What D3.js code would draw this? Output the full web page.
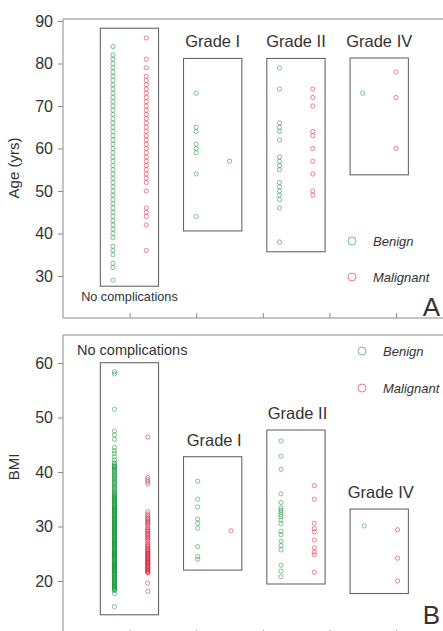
<!DOCTYPE html>
<html>
<head>
<meta charset="utf-8">
<script src="https://cdn.jsdelivr.net/npm/d3@7"></script>
<style>
  html, body { margin: 0; padding: 0; background: #fff; }
  svg { display: block; }
  text { font-family: "Liberation Sans", Arial, Helvetica, sans-serif; fill: #333; }
</style>
</head>
<body>
<svg id="chart" width="443" height="631"></svg>
<script>
// ---- categories ----
const groups = ["No complications", "Grade I", "Grade II", "Grade IV"];
const series = ["Benign", "Malignant"];

// ---- panel A: age (yrs) ----
const ageNoCompBenign = [84, 82, 81, 80, 79, 78, 77, 76, 75, 74, 73, 72, 71, 70, 69, 68, 67, 66, 65, 64, 63,
  62, 61, 60, 59, 58, 57, 56, 55, 54, 53, 52, 51, 50, 49, 48, 47, 46, 45, 44, 43, 42, 41, 40, 39,
  37, 36, 35, 33, 32, 29];
const ageNoCompMalignant = [86, 81, 79, 77, 76, 75, 74, 73, 72, 71, 70, 69, 68, 67, 66, 65, 64, 63, 62, 61,
  60, 59, 58, 57, 56, 55, 54, 53, 52, 50, 46, 45, 44, 42, 36];
const ageGrade1Benign = [73, 65, 64, 61, 60, 59, 54, 44];
const ageGrade1Malignant = [57];
const ageGrade2Benign = [79, 74, 66, 65, 64, 62, 58, 57, 56, 55, 52, 51, 50, 49, 48, 46, 38];
const ageGrade2Malignant = [74, 72, 70, 64, 63, 60, 57, 54, 50, 49];
const ageGrade4Benign = [73];
const ageGrade4Malignant = [78, 72, 60];
// outline of each group (age range enclosed)
const ageBoxLow = [27.6, 40.6, 35.7, 53.8];
const ageBoxHigh = [88.3, 81.2, 81.2, 81.3];
const ageTicks = [30, 40, 50, 60, 70, 80, 90];

// ---- panel B: BMI ----
const bmiNoCompBenign = [58.4, 58.0, 51.5, 47.5, 46.8, 46.0, 44.5, 43.9, 43.4,
  42.8, 42.2, 41.7, 41.2, 40.9, 40.5, 40.1, 39.6, 39.2, 38.8, 38.3, 37.9, 37.4, 37.0, 36.5, 36.1,
  35.8, 35.5, 35.3, 35.0, 34.8, 34.6, 34.3, 34.1, 33.9, 33.6, 33.4, 33.2, 33.0, 32.8, 32.5, 32.3,
  32.1, 31.9, 31.7, 31.5, 31.2, 31.0, 30.8, 30.6, 30.4, 30.1, 29.9, 29.7, 29.5, 29.3, 29.0, 28.8,
  28.6, 28.4, 28.2, 27.9, 27.7, 27.5, 27.3, 27.1, 26.9, 26.6, 26.4, 26.2, 26.0, 25.8, 25.6, 25.3,
  25.1, 24.9, 24.7, 24.5, 24.2, 24.0, 23.8, 23.6, 23.4, 23.1, 22.9, 22.7, 22.5, 22.3, 22.0, 21.8,
  21.6, 21.4, 21.2, 20.9, 20.7, 20.5, 20.3, 20.1, 19.8, 19.6, 19.4, 19.2, 19.0, 18.8, 18.6,
  30.2, 28.1, 26.7, 25.0, 24.4, 23.3, 22.6, 21.9, 27.0, 29.2, 31.4, 33.1, 24.8, 23.0, 25.5,
  41.5, 41.0, 40.7, 40.3, 39.9, 39.4, 39.0, 38.6, 38.1, 37.7, 37.2, 36.8, 36.3, 35.9, 35.6, 35.2,
  34.9, 34.5, 34.2, 33.8, 33.5, 32.9, 32.6, 32.2, 31.8, 31.3, 30.9, 30.5, 30.0, 29.6, 29.1, 28.7,
  28.3, 27.8, 27.4, 26.8, 26.5, 26.1, 25.7, 25.2, 24.6, 24.1, 23.7, 23.2, 22.8, 22.4, 22.1, 21.7,
  21.3, 21.0, 20.6, 20.2, 19.9, 19.5, 19.1, 18.9, 18.5, 18.4,
  18.2, 17.7, 15.3];
const bmiNoCompMalignant = [46.4, 39.0, 38.6, 38.2, 37.8, 32.7, 32.3, 32.0,
  31.6, 31.2, 30.9, 30.5, 30.2, 29.8, 29.5, 29.1, 28.8, 28.4, 28.1, 27.7, 27.4, 27.0, 26.7, 26.3,
  26.0, 25.6, 25.3, 25.0, 24.7, 24.4, 24.1, 23.8, 23.5, 23.2, 22.9, 22.6, 22.3, 22.0, 21.7, 21.5,
  24.9, 24.2, 23.6, 23.0, 22.4, 21.9, 25.4, 24.5, 23.3, 22.1, 31.4, 30.7, 29.3, 28.6, 27.9, 26.5,
  25.8, 25.1, 24.0, 23.4, 22.7, 21.6, 19.6, 18.1];
const bmiGrade1Benign = [38.3, 35.0, 33.6, 31.4, 30.6, 29.7, 26.3, 24.5, 24.0];
const bmiGrade1Malignant = [29.2];
const bmiGrade2Benign = [45.7, 42.9, 40.5, 36.0, 34.4, 33.4, 33.0, 32.6, 32.2, 31.8, 31.2, 30.5,
  29.1, 28.5, 27.3, 26.5, 25.7, 22.9, 21.8, 20.8];
const bmiGrade2Malignant = [37.5, 35.0, 30.6, 29.6, 29.0, 27.5, 26.1, 25.3, 24.8, 21.6];
const bmiGrade4Benign = [30.1];
const bmiGrade4Malignant = [29.4, 24.2, 20.0];
const bmiBoxLow = [13.8, 22.0, 19.45, 17.7];
const bmiBoxHigh = [60.05, 42.8, 47.7, 33.2];
const bmiTicks = [20, 30, 40, 50, 60];

// ---- styling ----
const colors = { Benign: "#17963a", Malignant: "#e01f3d" };
const fontFamily = '"Liberation Sans", Arial, Helvetica, sans-serif';

const svg = d3.select("#chart");

// horizontal scale: two slots per group, a wider gap between groups
const x = d3.scaleLinear().domain([0, 11.5]).range([63, 446]);
const slot = (g, s) => 1.5 + 2.5 * g + s;

function toRows(lists) {
  const rows = [];
  lists.forEach((pair, g) => {
    pair.forEach((vals, s) => {
      vals.forEach(v => rows.push({ g, s, v }));
    });
  });
  return rows;
}

const ageRows = toRows([
  [ageNoCompBenign, ageNoCompMalignant],
  [ageGrade1Benign, ageGrade1Malignant],
  [ageGrade2Benign, ageGrade2Malignant],
  [ageGrade4Benign, ageGrade4Malignant]
]);
const bmiRows = toRows([
  [bmiNoCompBenign, bmiNoCompMalignant],
  [bmiGrade1Benign, bmiGrade1Malignant],
  [bmiGrade2Benign, bmiGrade2Malignant],
  [bmiGrade4Benign, bmiGrade4Malignant]
]);

function panel(opts) {
  const g = svg.append("g");
  const y = opts.y;

  // frame
  g.append("path")
    .attr("d", `M${x.range()[1]},${opts.top}H${x(0)}V${opts.bottom}H${x.range()[1]}`)
    .attr("fill", "none").attr("stroke", "#8a8a8a").attr("stroke-width", 1);

  // y axis
  const ya = g.append("g").attr("transform", `translate(${x(0)},0)`)
    .call(d3.axisLeft(y).tickValues(opts.ticks).tickSize(5).tickPadding(5));
  ya.select(".domain").remove();
  ya.selectAll(".tick line").attr("stroke", "#8a8a8a");
  ya.selectAll(".tick text").attr("font-size", 16).attr("font-family", fontFamily).attr("fill", "#333");

  // x axis ticks (unlabelled)
  const xa = g.append("g").attr("transform", `translate(0,${opts.bottom})`)
    .call(d3.axisBottom(x).tickValues([2, 4, 6, 8, 10]).tickSize(opts.xTickSize).tickFormat(""));
  xa.select(".domain").remove();
  xa.selectAll(".tick line").attr("stroke", "#8a8a8a");

  // y title
  g.append("text")
    .attr("transform", `translate(${opts.titleX},${opts.titleY}) rotate(-90)`)
    .attr("text-anchor", "middle").attr("font-size", 15).text(opts.title);

  // group outlines
  groups.forEach((name, i) => {
    const x0 = x(slot(i, 0) - 0.38), x1 = x(slot(i, 1) + 0.37);
    g.append("rect")
      .attr("x", x0).attr("y", y(opts.boxHigh[i]))
      .attr("width", x1 - x0).attr("height", y(opts.boxLow[i]) - y(opts.boxHigh[i]))
      .attr("fill", "none").attr("stroke", "#5a5a5a").attr("stroke-width", 1);
  });

  // points
  g.append("g").selectAll("circle").data(opts.rows).join("circle")
    .attr("cx", d => x(slot(d.g, d.s)) + opts.dx)
    .attr("cy", d => y(d.v))
    .attr("r", 2.1)
    .attr("fill", "none")
    .attr("stroke", d => colors[series[d.s]])
    .attr("stroke-width", 1)
    .attr("stroke-opacity", 0.55);

  // legend
  series.forEach((s, i) => {
    const ly = opts.legendY[i];
    g.append("circle").attr("cx", opts.legendX).attr("cy", ly).attr("r", 4)
      .attr("fill", "none").attr("stroke", colors[s]).attr("stroke-opacity", 0.6).attr("stroke-width", 1);
    g.append("text").attr("x", opts.legendX + 21).attr("y", ly + 5)
      .attr("font-size", 13).attr("font-style", "italic").text(s);
  });

  // panel letter
  g.append("text").attr("x", 440).attr("y", opts.letterY).attr("text-anchor", "end")
    .attr("font-size", 26).attr("fill", "#111").text(opts.letter);

  return g;
}

const yAge = d3.scaleLinear().domain([30, 90]).range([276, 21]);
const gA = panel({
  y: yAge, top: 19, bottom: 318, ticks: ageTicks, xTickSize: -5,
  title: "Age (yrs)", titleX: 19, titleY: 168,
  boxLow: ageBoxLow, boxHigh: ageBoxHigh, rows: ageRows, dx: 0,
  legendX: 352, legendY: [241, 277], letter: "A", letterY: 316
});
// group labels, panel A
groups.forEach((name, i) => {
  const cx = (x(slot(i, 0) - 0.38) + x(slot(i, 1) + 0.37)) / 2;
  if (i === 0) {
    gA.append("text").attr("x", cx).attr("y", yAge(ageBoxLow[i]) + 15)
      .attr("text-anchor", "middle").attr("font-size", 12.7).text(name);
  } else {
    gA.append("text").attr("x", cx).attr("y", yAge(ageBoxHigh[i]) - 11)
      .attr("text-anchor", "middle").attr("font-size", 16.5).text(name);
  }
});

const yBmi = d3.scaleLinear().domain([20, 60]).range([581, 363]);
const gB = panel({
  y: yBmi, top: 335, bottom: 636, ticks: bmiTicks, xTickSize: -6,
  title: "BMI", titleX: 19, titleY: 467,
  boxLow: bmiBoxLow, boxHigh: bmiBoxHigh, rows: bmiRows, dx: 1.5,
  legendX: 362, legendY: [351, 388], letter: "B", letterY: 624
});
groups.forEach((name, i) => {
  const x0 = x(slot(i, 0) - 0.38), x1 = x(slot(i, 1) + 0.37);
  if (i === 0) {
    gB.append("text").attr("x", 77).attr("y", yBmi(bmiBoxHigh[i]) - 7.5)
      .attr("font-size", 14.5).text(name);
  } else {
    gB.append("text").attr("x", (x0 + x1) / 2 + 1.5).attr("y", yBmi(bmiBoxHigh[i]) - 11)
      .attr("text-anchor", "middle").attr("font-size", 16.5).text(name);
  }
});
</script>
</body>
</html>
